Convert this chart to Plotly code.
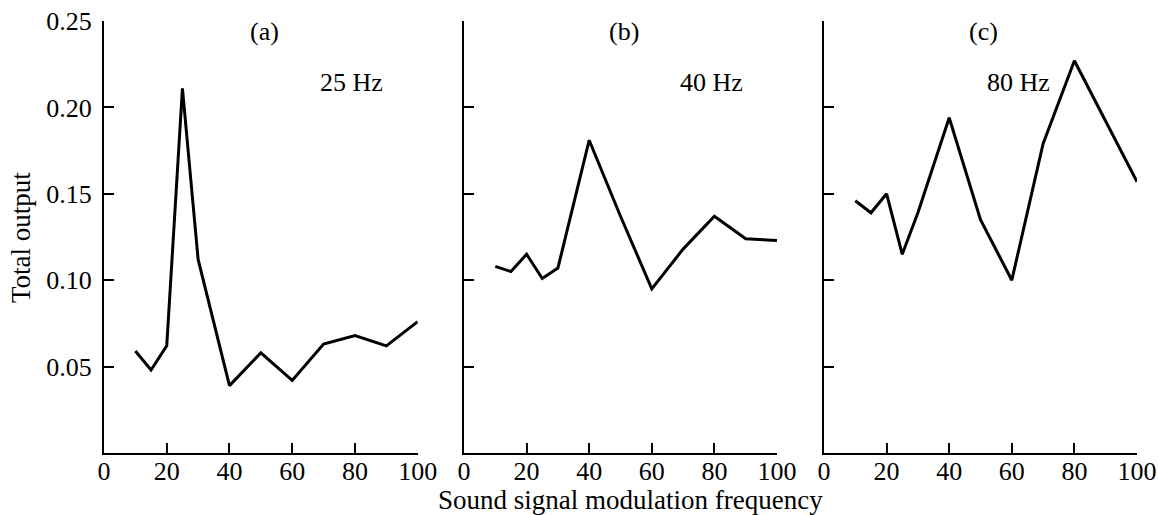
import plotly.graph_objects as go

# Data
freq_a = [10, 15, 20, 25, 30, 35, 40, 50, 60, 70, 80, 90, 100]
out_a = [0.059, 0.048, 0.062, 0.211, 0.112, 0.075, 0.039, 0.058, 0.042, 0.063, 0.068, 0.062, 0.076]

freq_b = [10, 15, 20, 25, 30, 40, 50, 60, 70, 80, 90, 100]
out_b = [0.108, 0.105, 0.115, 0.101, 0.107, 0.181, 0.137, 0.095, 0.118, 0.137, 0.124, 0.123]

freq_c = [10, 15, 20, 25, 30, 40, 50, 60, 70, 80, 90, 100]
out_c = [0.146, 0.139, 0.150, 0.115, 0.139, 0.194, 0.135, 0.100, 0.179, 0.227, 0.192, 0.157]

panel_labels = ["(a)", "(b)", "(c)"]
freq_labels = ["25 Hz", "40 Hz", "80 Hz"]
freq_label_x = [79, 79, 62]

x_ticks = [0, 20, 40, 60, 80, 100]
y_ticks = [0.05, 0.10, 0.15, 0.20, 0.25]
y_ticktext = ["0.05", "0.10", "0.15", "0.20", "0.25"]

FONT = "Liberation Serif, Times New Roman, serif"
FS = 26
FS_TITLE = 27

W, H = 1158, 515
ml, mr, mt, mb = 104, 21, 21, 62
pw, ph = W - ml - mr, H - mt - mb


def px_to_paper(sx, sy):
    return (sx - ml) / pw, (H - mb - sy) / ph


fig = go.Figure()
series = [(freq_a, out_a), (freq_b, out_b), (freq_c, out_c)]
domains = [[0.0, 0.3037], [0.3485, 0.6515], [0.697, 1.0]]

for i, (xs, ys) in enumerate(series):
    suffix = "" if i == 0 else str(i + 1)
    fig.add_trace(go.Scatter(
        x=xs, y=ys, mode="lines",
        line=dict(color="black", width=3),
        xaxis="x" + suffix, yaxis="y" + suffix,
        showlegend=False, hoverinfo="skip",
    ))
    axis_common = dict(showline=True, linecolor="black", linewidth=2,
                       ticks="inside", ticklen=10, tickwidth=2, tickcolor="black",
                       showgrid=False, zeroline=False, automargin=False,
                       ticklabeloverflow="allow",
                       tickfont=dict(family=FONT, size=FS, color="black"))
    fig.layout["xaxis" + suffix] = dict(
        domain=domains[i], range=[0, 100], anchor="y" + suffix,
        tickvals=x_ticks, ticktext=[str(v) for v in x_ticks],
        ticklabelstandoff=-6,
        **axis_common)
    fig.layout["yaxis" + suffix] = dict(
        domain=[0, 1], range=[0, 0.25], anchor="x" + suffix,
        tickvals=y_ticks, ticktext=y_ticktext,
        showticklabels=(i == 0), ticklabelstandoff=5,
        **axis_common)
    fig.add_annotation(x=51, y=0.244, xref="x" + suffix, yref="y" + suffix,
                       text=panel_labels[i], showarrow=False,
                       xanchor="center", yanchor="middle",
                       font=dict(family=FONT, size=FS, color="black"))
    fig.add_annotation(x=freq_label_x[i], y=0.2147, xref="x" + suffix, yref="y" + suffix,
                       text=freq_labels[i], showarrow=False,
                       xanchor="center", yanchor="middle",
                       font=dict(family=FONT, size=FS, color="black"))

tx, ty = px_to_paper(630, 500)
fig.add_annotation(x=tx, y=ty, xref="paper", yref="paper",
                   text="Sound signal modulation frequency", showarrow=False,
                   xanchor="center", yanchor="middle",
                   font=dict(family=FONT, size=FS_TITLE, color="black"))
yx, yy = px_to_paper(21, 238)
fig.add_annotation(x=yx, y=yy, xref="paper", yref="paper",
                   text="Total output", textangle=-90, showarrow=False,
                   xanchor="center", yanchor="middle",
                   font=dict(family=FONT, size=FS_TITLE, color="black"))

fig.update_layout(
    width=W, height=H,
    margin=dict(l=ml, r=mr, t=mt, b=mb),
    paper_bgcolor="white", plot_bgcolor="white",
    font=dict(family=FONT, size=FS, color="black"),
    hovermode=False,
)

fig.write_html(
    "out.html",
    config={"displayModeBar": False},
    post_script="document.body.style.margin='0';document.body.style.overflow='hidden';",
)
